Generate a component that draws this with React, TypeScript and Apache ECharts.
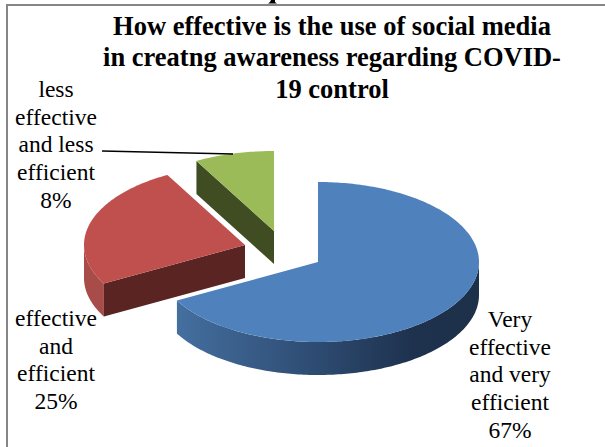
import React, { useEffect, useRef } from "react";
import * as echarts from "echarts";

const titleLines = [
  "How effective is the use of social media",
  "in creatng awareness regarding COVID-",
  "19 control",
];
const categories = ["Very effective and very efficient", "effective and efficient", "less effective and less efficient"];
const shares = [67, 25, 8];
const faceColors = ["#4f81bd", "#c0504d", "#9bbb59"];
const cutColors = ["#2c4a6e", "#5a2423", "#404c22"];
const labelLines = [
  ["Very", "effective", "and very", "efficient", "67%"],
  ["effective", "and", "efficient", "25%"],
  ["less", "effective", "and less", "efficient", "8%"],
];

const FONT = '"Liberation Serif", "Times New Roman", serif';
const RX = 161;
const RY = 80;
const DEPTH = 33;
// Pull-out position of each slice's apex.
const centers = [
  [318, 262],
  [245, 245],
  [274, 231],
];
const labelAnchors = [
  [510, 319],
  [56, 318],
  [56, 89],
];
const total = shares.reduce((a, b) => a + b, 0);

// Angles run clockwise from 12 o'clock, in radians.
const rim = (cx: number, cy: number, a: number): number[] => [cx + RX * Math.sin(a), cy - RY * Math.cos(a)];

function arcPoints(cx: number, cy: number, a0: number, a1: number): number[][] {
  const steps = Math.max(4, Math.ceil(Math.abs(a1 - a0) * 60));
  const pts: number[][] = [];
  for (let i = 0; i <= steps; i++) pts.push(rim(cx, cy, a0 + ((a1 - a0) * i) / steps));
  return pts;
}

const polygon = (points: number[][], fill: any, z2 = 0) => ({
  type: "polygon",
  z2,
  shape: { points },
  style: { fill, stroke: "none" },
});

function renderSlice(params: any, api: any) {
  const i = params.dataIndex;
  let before = 0;
  for (let k = 0; k < i; k++) before += shares[k];
  const a0 = (before / total) * Math.PI * 2;
  const a1 = a0 + ((api.value(0) as number) / total) * Math.PI * 2;
  const [cx, cy] = centers[i];
  const children: any[] = [];

  // Outer wall: only the part of the rim on the near side of the disc shows.
  const wallStart = Math.max(a0, Math.PI / 2);
  const wallEnd = Math.min(a1, (Math.PI * 3) / 2);
  if (wallEnd > wallStart) {
    const top = arcPoints(cx, cy, wallStart, wallEnd);
    const bottom = top.map(([x, y]) => [x, y + DEPTH]).reverse();
    const fill =
      i === 0
        ? new echarts.graphic.LinearGradient(1, 0, 0, 0, [
            { offset: 0, color: "#1c3049" },
            { offset: 0.22, color: "#1e324e" },
            { offset: 0.55, color: "#2e4c73" },
            { offset: 1, color: "#446f9f" },
          ])
        : "#a84c49";
    children.push(polygon([...top, ...bottom], fill));
  }

  // Cut face on the slice's leading edge, visible for the two pulled-out slices.
  if (i > 0) {
    const edge = rim(cx, cy, a0);
    children.push(
      polygon(
        [
          [cx, cy],
          edge,
          [edge[0], edge[1] + DEPTH],
          [cx, cy + DEPTH],
        ],
        cutColors[i],
      ),
    );
  }

  // Top face.
  children.push(polygon([[cx, cy], ...arcPoints(cx, cy, a0, a1)], faceColors[i], 1));

  // Data label, one text per line.
  const [lx, ly] = labelAnchors[i];
  labelLines[i].forEach((line, n) => {
    children.push({
      type: "text",
      z2: 2,
      style: {
        x: lx,
        y: ly + n * 27.7,
        text: line,
        fill: "#000",
        font: `23.5px ${FONT}`,
        align: "center",
        verticalAlign: "middle",
      },
    });
  });
  return { type: "group", children };
}

export default function App() {
  const ref = useRef<HTMLDivElement>(null);
  useEffect(() => {
    const chart = echarts.init(ref.current!, undefined, { renderer: "svg" });
    chart.setOption({
      animation: false,
      backgroundColor: "#fff",
      title: {
        text: titleLines.join("\n"),
        left: 327,
        top: 5,
        textAlign: "center",
        textStyle: { fontFamily: FONT, fontWeight: "bold", fontSize: 26.5, lineHeight: 31.5, color: "#000" },
      },
      series: [
        {
          type: "custom",
          coordinateSystem: "none",
          silent: true,
          clip: false,
          renderItem: renderSlice,
          encode: { value: 0 },
          data: shares.map((v, i) => ({ name: categories[i], value: [v] })),
          z: 3,
        },
      ],
      graphic: [
        { type: "rect", z: 1, shape: { x: 6, y: 4, width: 2, height: 443 }, style: { fill: "#868686" } },
        { type: "rect", z: 1, shape: { x: 6, y: 4, width: 599, height: 2 }, style: { fill: "#868686" } },
        {
          type: "line",
          z: 10,
          shape: { x1: 102, y1: 151, x2: 233, y2: 154 },
          style: { stroke: "#000", lineWidth: 1.6 },
        },
        // Foot of a glyph from the heading above the frame.
        {
          type: "polygon",
          z: 2,
          shape: { points: [[271, 0], [275, 0], [275, 2], [277, 3.5], [268, 3.5], [270, 2]] },
          style: { fill: "#000" },
        },
      ],
    });
    return () => chart.dispose();
  }, []);
  return <div ref={ref} style={{ position: "absolute", left: 0, top: 0, width: 605, height: 447 }} />;
}
